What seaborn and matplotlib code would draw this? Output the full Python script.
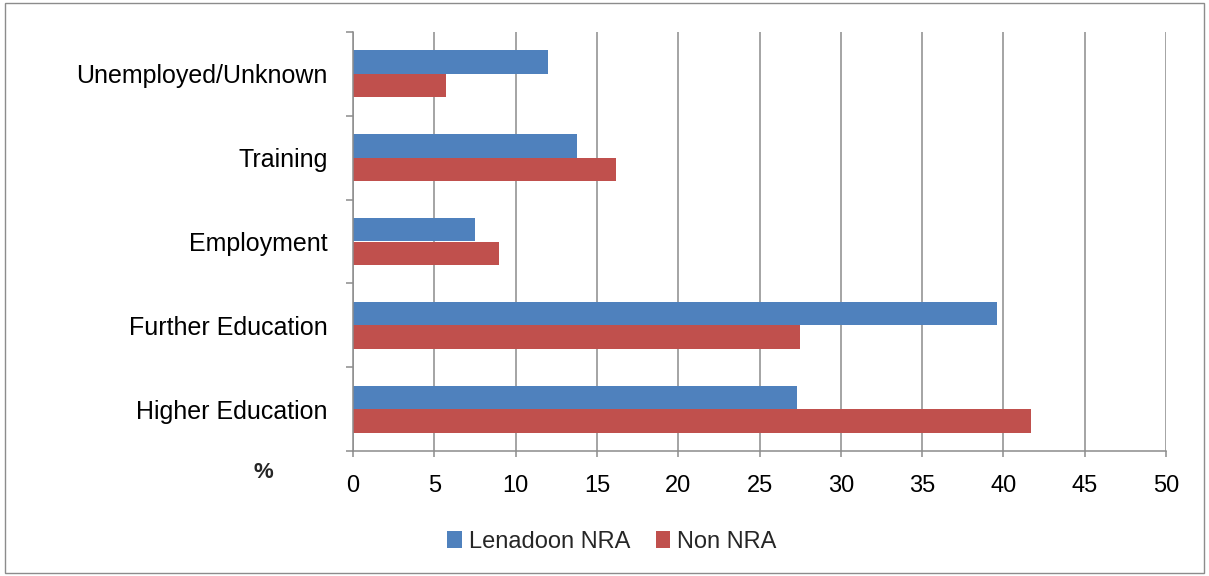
import matplotlib
matplotlib.use('Agg')
import matplotlib.pyplot as plt
import seaborn as sns
import pandas as pd
from matplotlib.patches import Rectangle, Patch

categories = ['Unemployed/Unknown', 'Training', 'Employment', 'Further Education', 'Higher Education']
series_names = ['Lenadoon NRA', 'Non NRA']
lenadoon = [12.0, 13.8, 7.5, 39.6, 27.3]
non_nra = [5.7, 16.2, 9.0, 27.5, 41.7]
x_ticks = [0, 5, 10, 15, 20, 25, 30, 35, 40, 45, 50]
colors = ['#4F81BD', '#C0504D']

df = pd.DataFrame({
    'category': categories * 2,
    'series': [s for s in series_names for _ in categories],
    'value': lenadoon + non_nra,
})

sns.set_theme(style='white')
plt.rcParams['font.family'] = ['Liberation Sans', 'DejaVu Sans']

W, H = 1209, 576
fig = plt.figure(figsize=(W / 100, H / 100), dpi=100)
ax = fig.add_axes([353 / W, 1 - 451 / H, (1166 - 353) / W, (451 - 32) / H])

sns.barplot(data=df, y='category', x='value', hue='series', order=categories,
            hue_order=series_names, palette=colors, orient='h', width=0.56,
            saturation=1, errorbar=None, linewidth=0, legend=False, ax=ax)

grid_c = '#8c8c8c'
ax.set_xlim(0, 50)
ax.set_ylim(4.5, -0.5)
ax.set_xticks(x_ticks)
ax.set_xticklabels([str(t) for t in x_ticks], fontsize=17, color='black')
ax.set_yticks(range(len(categories)))
ax.set_yticklabels(categories, fontsize=18, color='black')
ax.set_yticks([i - 0.5 for i in range(len(categories) + 1)], minor=True)
ax.tick_params(axis='y', which='major', length=0, pad=18)
ax.tick_params(axis='y', which='minor', length=5, width=1.1, color=grid_c, direction='out', left=True)
ax.tick_params(axis='x', which='major', length=4.5, width=1.1, color=grid_c, direction='out', bottom=True, pad=13)
ax.xaxis.grid(True, color=grid_c, linewidth=1.1)
ax.yaxis.grid(False)
ax.set_axisbelow(True)
ax.set_xlabel('')
ax.set_ylabel('')
for s in ['top', 'right']:
    ax.spines[s].set_visible(False)
for s in ['left', 'bottom']:
    ax.spines[s].set_color(grid_c)
    ax.spines[s].set_linewidth(1.1)

fig.text(263 / W, 1 - 472 / H, '%', fontsize=16, fontweight='bold', ha='center', va='center')

handles = [Patch(facecolor=c, edgecolor='none') for c in colors]
fig.legend(handles, series_names, loc='center', bbox_to_anchor=(612 / W, 1 - 542 / H),
           ncol=2, frameon=False, fontsize=17, handlelength=0.6, handleheight=0.7,
           handletextpad=0.3, columnspacing=1.1)

fig.add_artist(Rectangle((5 / W, 3 / H), (1204 - 5) / W, (573 - 3) / H, transform=fig.transFigure,
                         fill=False, edgecolor=grid_c, linewidth=1.0))

fig.savefig('out.png', dpi=100)
